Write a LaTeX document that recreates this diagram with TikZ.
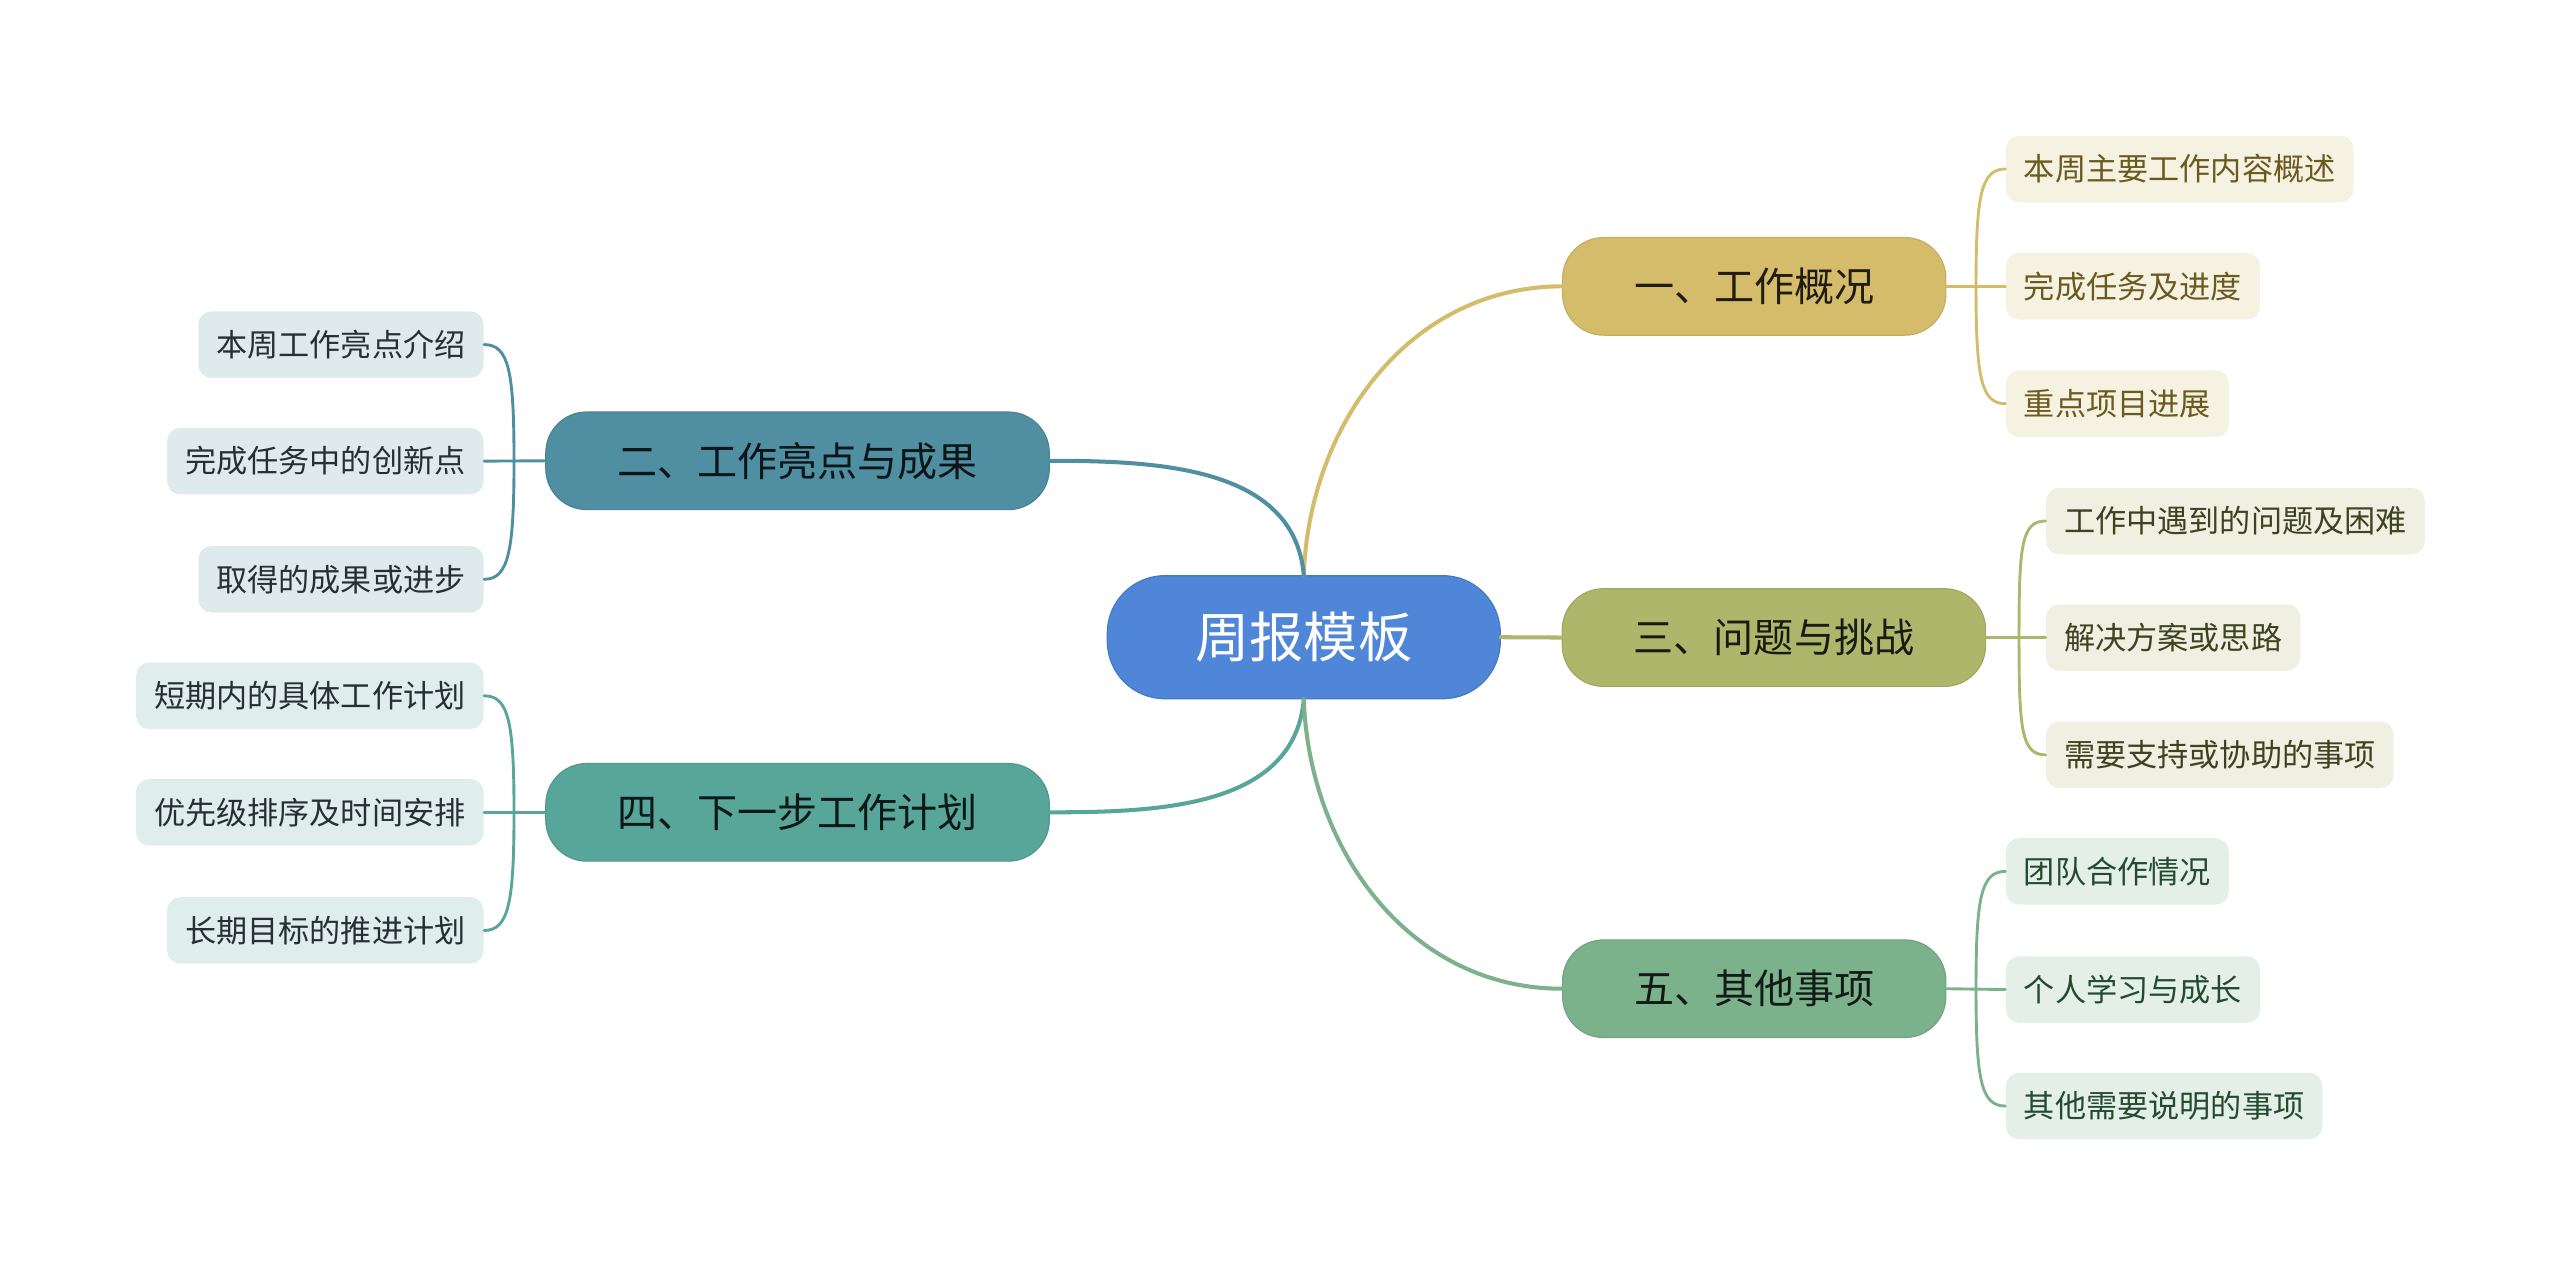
\documentclass[tikz,border=0pt]{standalone}
\usepackage{fontspec}
\setmainfont{Noto Sans CJK SC}

% 颜色
\definecolor{zhulan}{HTML}{4F86D8}
\definecolor{huang}{HTML}{D4BC6A}
\definecolor{lan}{HTML}{4F8FA1}
\definecolor{ganlan}{HTML}{AEB66C}
\definecolor{qing}{HTML}{58A59A}
\definecolor{cui}{HTML}{7BB18B}
\definecolor{huangdi}{HTML}{F6F2E1}
\definecolor{landi}{HTML}{DFEAED}
\definecolor{ganlandi}{HTML}{EFF0E2}
\definecolor{qingdi}{HTML}{DFEEEC}
\definecolor{cuidi}{HTML}{E4F0E7}
\definecolor{huangzi}{HTML}{6A5A1F}
\definecolor{ganlanzi}{HTML}{3D4221}
\definecolor{cuizi}{HTML}{244A30}
\definecolor{shenzi}{HTML}{263034}

\tikzset{
  zhuti/.style={draw=zhulan!90!black, line width=0.4pt, fill=zhulan, text=white,
    rounded corners=0.7cm, minimum width=4.79cm, minimum height=1.5cm,
    font=\fontsize{18.8}{22}\selectfont},
  fenzhi/.style 2 args={draw=#1!92!black, line width=0.4pt, fill=#1, text=#2,
    rounded corners=0.5cm, inner xsep=0.87cm, minimum height=1.19cm,
    font=\fontsize{13.9}{16}\selectfont},
  yezi/.style 2 args={fill=#1, text=#2, rounded corners=0.16cm,
    inner xsep=0.22cm, minimum height=0.81cm,
    font=\fontsize{10.8}{13}\selectfont},
  zhuxian/.style={line width=1.4pt},
  yexian/.style={line width=1pt}
}

\begin{document}
\begin{tikzpicture}[line cap=round]
  \useasboundingbox (0,0) rectangle (31.2,15.466);

  % 中心主题
  \node[zhuti] (zhoubao) at (15.89,7.70) {周报模板};

  % 一级分支
  \node[fenzhi={huang}{black!85!huang}] (gaikuang) at (21.38,11.976) {一、工作概况};
  \node[fenzhi={lan}{black!85!lan}] (liangdian) at (9.72,9.85) {二、工作亮点与成果};
  \node[fenzhi={ganlan}{black!85!ganlan}] (wenti) at (21.62,7.696) {三、问题与挑战};
  \node[fenzhi={qing}{black!85!qing}] (jihua) at (9.72,5.566) {四、下一步工作计划};
  \node[fenzhi={cui}{black!85!cui}] (qita) at (21.38,3.416) {五、其他事项};

  % 中心到分支的连线
  \draw[zhuxian, huang] (zhoubao.north) to[out=88, in=180] (gaikuang.west);
  \draw[zhuxian, lan] (zhoubao.north) to[out=95, in=0] (liangdian.east);
  \draw[zhuxian, ganlan] (zhoubao.east) -- (wenti.west);
  \draw[zhuxian, qing] (zhoubao.south) to[out=-95, in=0] (jihua.east);
  \draw[zhuxian, cui] (zhoubao.south) to[out=-88, in=180] (qita.west);

  % 一、工作概况
  \node[yezi={huangdi}{huangzi}, anchor=west] (gk1) at (24.44,13.406) {本周主要工作内容概述};
  \node[yezi={huangdi}{huangzi}, anchor=west] (gk2) at (24.44,11.976) {完成任务及进度};
  \node[yezi={huangdi}{huangzi}, anchor=west] (gk3) at (24.44,10.546) {重点项目进展};
  \coordinate (jgk) at ([xshift=0.36cm]gaikuang.east);
  \draw[yexian, huang] (gaikuang.east) -- (gk2.west);
  \draw[yexian, huang] (jgk) .. controls +(0,1.1) and +(-0.3,0) .. (gk1.west);
  \draw[yexian, huang] (jgk) .. controls +(0,-1.1) and +(-0.3,0) .. (gk3.west);

  % 二、工作亮点与成果
  \node[yezi={landi}{shenzi}, anchor=east] (ld1) at (5.90,11.266) {本周工作亮点介绍};
  \node[yezi={landi}{shenzi}, anchor=east] (ld2) at (5.90,9.846) {完成任务中的创新点};
  \node[yezi={landi}{shenzi}, anchor=east] (ld3) at (5.90,8.406) {取得的成果或进步};
  \coordinate (jld) at ([xshift=-0.38cm]liangdian.west);
  \draw[yexian, lan] (liangdian.west) -- (ld2.east);
  \draw[yexian, lan] (jld) .. controls +(0,1.1) and +(0.3,0) .. (ld1.east);
  \draw[yexian, lan] (jld) .. controls +(0,-1.1) and +(0.3,0) .. (ld3.east);

  % 三、问题与挑战
  \node[yezi={ganlandi}{ganlanzi}, anchor=west] (wt1) at (24.93,9.116) {工作中遇到的问题及困难};
  \node[yezi={ganlandi}{ganlanzi}, anchor=west] (wt2) at (24.93,7.696) {解决方案或思路};
  \node[yezi={ganlandi}{ganlanzi}, anchor=west] (wt3) at (24.93,6.266) {需要支持或协助的事项};
  \coordinate (jwt) at ([xshift=0.4cm]wenti.east);
  \draw[yexian, ganlan] (wenti.east) -- (wt2.west);
  \draw[yexian, ganlan] (jwt) .. controls +(0,1.1) and +(-0.3,0) .. (wt1.west);
  \draw[yexian, ganlan] (jwt) .. controls +(0,-1.1) and +(-0.3,0) .. (wt3.west);

  % 四、下一步工作计划
  \node[yezi={qingdi}{shenzi}, anchor=east] (jh1) at (5.90,6.986) {短期内的具体工作计划};
  \node[yezi={qingdi}{shenzi}, anchor=east] (jh2) at (5.90,5.566) {优先级排序及时间安排};
  \node[yezi={qingdi}{shenzi}, anchor=east] (jh3) at (5.90,4.126) {长期目标的推进计划};
  \coordinate (jjh) at ([xshift=-0.38cm]jihua.west);
  \draw[yexian, qing] (jihua.west) -- (jh2.east);
  \draw[yexian, qing] (jjh) .. controls +(0,1.1) and +(0.3,0) .. (jh1.east);
  \draw[yexian, qing] (jjh) .. controls +(0,-1.1) and +(0.3,0) .. (jh3.east);

  % 五、其他事项
  \node[yezi={cuidi}{cuizi}, anchor=west] (qt1) at (24.44,4.846) {团队合作情况};
  \node[yezi={cuidi}{cuizi}, anchor=west] (qt2) at (24.44,3.406) {个人学习与成长};
  \node[yezi={cuidi}{cuizi}, anchor=west] (qt3) at (24.44,1.986) {其他需要说明的事项};
  \coordinate (jqt) at ([xshift=0.36cm]qita.east);
  \draw[yexian, cui] (qita.east) -- (qt2.west);
  \draw[yexian, cui] (jqt) .. controls +(0,1.1) and +(-0.3,0) .. (qt1.west);
  \draw[yexian, cui] (jqt) .. controls +(0,-1.1) and +(-0.3,0) .. (qt3.west);
\end{tikzpicture}
\end{document}
